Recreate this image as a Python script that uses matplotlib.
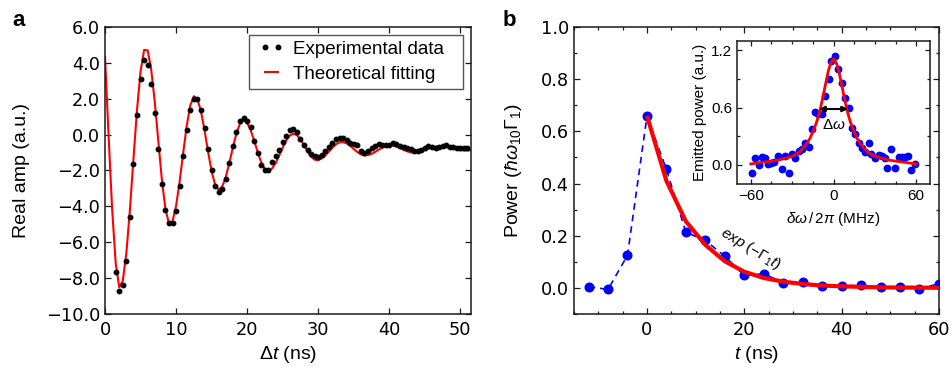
import numpy as np
import matplotlib
matplotlib.use("Agg")
import matplotlib.pyplot as plt
from matplotlib.ticker import MultipleLocator, FixedLocator, FuncFormatter
from matplotlib.patches import Rectangle

plt.rcParams['font.family'] = ['Liberation Sans', 'DejaVu Sans']
plt.rcParams['mathtext.fontset'] = 'custom'
plt.rcParams['mathtext.rm'] = 'Liberation Sans'
plt.rcParams['mathtext.it'] = 'Liberation Sans:italic'
plt.rcParams['mathtext.bf'] = 'Liberation Sans:bold'

# ---------------- Panel a data ----------------
t_exp = np.arange(1.5, 51.01, 0.5)
amp_exp = [
    -7.68, -8.74, -8.39, -7.07, -4.57, -1.65, 1.07, 3.09, 4.15, 3.87,
    2.85, 1.20, -0.78, -2.77, -4.21, -4.94, -4.90, -4.25, -2.86, -1.21,
    0.25, 1.37, 1.96, 1.96, 1.35, 0.38, -0.78, -1.97, -2.84, -3.21,
    -3.02, -2.47, -1.60, -0.62, 0.14, 0.77, 0.90, 0.77, 0.40, -0.36,
    -1.03, -1.68, -1.97, -1.95, -1.54, -1.20, -0.85, -0.40, -0.05, 0.24,
    0.33, 0.15, -0.23, -0.60, -0.88, -1.10, -1.21, -1.25, -1.15, -0.93,
    -0.69, -0.45, -0.26, -0.19, -0.19, -0.28, -0.45, -0.50, -0.60, -0.90,
    -1.00, -0.90, -0.75, -0.62, -0.50, -0.58, -0.60, -0.60, -0.45, -0.50,
    -0.62, -0.70, -0.77, -0.80, -0.90, -0.93, -0.86, -0.75, -0.62, -0.69,
    -0.75, -0.69, -0.65, -0.56, -0.69, -0.70, -0.73, -0.72, -0.75, -0.75,
]
t_fit = np.arange(0.0, 51.51, 0.5)
amp_fit = [
    4.33, -0.03, -4.13, -7.15, -8.51, -8.16, -6.63, -4.21, -1.37, 1.37,
    3.52, 4.72, 4.70, 3.63, 1.83, -0.36, -2.51, -4.14, -4.96, -4.83,
    -3.97, -2.62, -1.02, 0.50, 1.63, 2.14, 1.98, 1.30, 0.25, -0.95,
    -2.04, -2.81, -3.08, -2.89, -2.35, -1.57, -0.70, 0.08, 0.62, 0.81,
    0.66, 0.24, -0.35, -1.00, -1.57, -1.93, -2.03, -1.89, -1.59, -1.17,
    -0.72, -0.32, -0.05, 0.05, -0.03, -0.26, -0.58, -0.93, -1.23, -1.40,
    -1.42, -1.33, -1.16, -0.94, -0.72, -0.54, -0.43, -0.42, -0.49, -0.63,
    -0.80, -0.97, -1.10, -1.16, -1.14, -1.07, -0.97, -0.84, -0.73, -0.64,
    -0.60, -0.61, -0.67, -0.75, -0.85, -0.93, -0.99, -1.00, -0.98, -0.93,
    -0.86, -0.78, -0.71, -0.67, -0.65, -0.66, -0.69, -0.74, -0.79, -0.84,
    -0.87, -0.88, -0.88, -0.87,
]

# ---------------- Panel b data ----------------
t_pow = [-12, -8, -4, 0, 4, 8, 12, 16, 20, 24, 28, 32, 36, 40, 44, 48, 52, 56, 60]
pow_exp = [0.005, -0.006, 0.125, 0.658, 0.454, 0.213, 0.182, 0.121, 0.048, 0.054,
           0.020, 0.022, 0.007, 0.007, 0.010, 0.003, 0.004, -0.003, 0.016]
t_decay = [0, 4, 8, 12, 16, 20, 24, 28, 32, 36, 40, 44, 48, 52, 56, 60]
pow_decay = [0.66, 0.41, 0.255, 0.165, 0.102, 0.062, 0.038, 0.024, 0.015, 0.009,
             0.006, 0.004, 0.002, 0.0015, 0.001, 0.0005]

# ---------------- Inset data ----------------
freq_exp = [-59.4, -57.0, -54.3, -52.1, -49.7, -47.5, -45.3, -42.9, -40.5, -37.6,
            -35.2, -32.5, -30.1, -27.6, -25.2, -22.8, -20.6, -17.9, -15.8, -13.3,
            -11.2, -8.5, -6.1, -3.6, -1.7, 1.0, 3.6, 5.8, 8.5, 10.9,
            13.3, 15.8, 18.2, 20.6, 23.0, 25.5, 27.4, 30.1, 33.0, 35.2,
            37.6, 39.0, 41.9, 44.4, 47.3, 49.7, 52.1, 54.3, 56.5, 58.9]
emit_exp = [-0.08, 0.077, 0.0, 0.083, 0.077, 0.007, 0.024, 0.035, 0.094, -0.038,
            0.094, -0.087, 0.11, 0.07, 0.146, 0.17, 0.226, 0.188, 0.372, 0.553,
            0.529, 0.529, 0.72, 0.90, 1.085, 1.144, 1.005, 0.859, 0.696, 0.598,
            0.383, 0.327, 0.233, 0.181, 0.136, 0.233, 0.11, 0.077, 0.10, 0.094,
            0.073, -0.031, 0.17, -0.028, 0.087, 0.087, 0.083, 0.094, -0.052, 0.014]
freq_fit = [-60, -50, -40, -35, -30, -25, -20, -17, -14, -12, -10, -8, -6, -4, -2, 0,
            2, 4, 6, 8, 10, 12, 14, 17, 20, 25, 30, 35, 40, 50, 60]
emit_fit = [0.01, 0.03, 0.05, 0.07, 0.09, 0.13, 0.21, 0.28, 0.38, 0.46, 0.56, 0.69, 0.83,
            0.97, 1.07, 1.11, 1.07, 0.97, 0.83, 0.69, 0.56, 0.46, 0.38, 0.28, 0.21, 0.13,
            0.09, 0.07, 0.05, 0.03, 0.01]

RED = '#ff0000'
BLUE = '#0000ff'
SPINE = '#1a1a1a'
TICK_FS = 12.8
LAB_FS = 14
TICK_FONT = 'DejaVu Sans'

def minus_fmt(fmt):
    return FuncFormatter(lambda v, p: (fmt % v).replace('-', '\u2212'))

def style_axes(ax, fs, major_len=4, minor_len=2.5, tickfont=None):
    for s in ax.spines.values():
        s.set_linewidth(1.1)
        s.set_color(SPINE)
    ax.tick_params(which='both', direction='in', top=True, right=True,
                   width=0.9, color=SPINE, labelsize=fs)
    ax.tick_params(which='major', length=major_len)
    ax.tick_params(which='minor', length=minor_len)
    if tickfont:
        for lab in ax.get_xticklabels() + ax.get_yticklabels():
            lab.set_fontfamily(tickfont)

fig = plt.figure(figsize=(9.52, 3.73), dpi=100)

# ---------------- Panel a ----------------
ax1 = fig.add_axes([0.1103, 0.1582, 0.3845, 0.7694])
ax1.plot(t_exp, amp_exp, 'o', color='black', ms=3.2, mec='black', lw=0,
         label='Experimental data', zorder=3)
ax1.plot(t_fit, amp_fit, '-', color=RED, lw=1.5, label='Theoretical fitting', zorder=2)
ax1.set_xlim(0, 51.5)
ax1.set_ylim(-10, 6)
ax1.xaxis.set_major_locator(MultipleLocator(10))
ax1.yaxis.set_major_locator(MultipleLocator(2))
ax1.yaxis.set_major_formatter(minus_fmt('%.1f'))
style_axes(ax1, TICK_FS, tickfont=TICK_FONT)
ax1.tick_params(axis='x', pad=5)
ax1.set_xlabel(r'$\Delta t$ (ns)', fontsize=LAB_FS, labelpad=4)
ax1.set_ylabel('Real amp (a.u.)', fontsize=LAB_FS, labelpad=11)
# legend frame drawn manually for the reference's asymmetric padding
ax1.add_patch(Rectangle((0.393, 0.784), 0.585, 0.188, transform=ax1.transAxes,
                        facecolor='white', edgecolor='#555555', lw=1.0, zorder=4))
leg = ax1.legend(loc='upper left', fontsize=13.5, numpoints=2, handlelength=1.25,
                 handletextpad=0.5, borderpad=0.0, labelspacing=0.4,
                 frameon=False, bbox_to_anchor=(0.423, 0.952), borderaxespad=0)
leg.set_zorder(5)
fig.text(0.013, 0.945, 'a', fontsize=16, fontweight='bold', va='center')

# ---------------- Panel b ----------------
ax2 = fig.add_axes([0.6029, 0.1582, 0.3834, 0.7694])
ax2.plot(t_pow, pow_exp, '--', color=BLUE, lw=1.2, dashes=(4, 3), zorder=2)
ax2.plot(t_pow, pow_exp, 'o', color=BLUE, ms=6.2, lw=0, zorder=3)
ax2.plot(t_decay, pow_decay, '-', color=RED, lw=3.0, zorder=4, solid_capstyle='butt')
ax2.set_xlim(-15, 60)
ax2.set_ylim(-0.1, 1.0)
ax2.xaxis.set_major_locator(FixedLocator([0, 20, 40, 60]))
ax2.xaxis.set_minor_locator(MultipleLocator(5))
ax2.yaxis.set_major_locator(FixedLocator([0, 0.2, 0.4, 0.6, 0.8, 1.0]))
ax2.yaxis.set_minor_locator(MultipleLocator(0.1))
ax2.yaxis.set_major_formatter(minus_fmt('%.1f'))
style_axes(ax2, TICK_FS, tickfont=TICK_FONT)
ax2.tick_params(axis='x', pad=5)
ax2.set_xlabel(r'$t$ (ns)', fontsize=LAB_FS, labelpad=4)
ax2.set_ylabel(r'Power ($\hbar\omega_{10}\Gamma_1$)', fontsize=LAB_FS, labelpad=12)
ax2.text(21.4, 0.148, r'$exp\ (-\Gamma_1 t)$', fontsize=11, rotation=-31,
         ha='center', va='center')
fig.text(0.528, 0.945, 'b', fontsize=16, fontweight='bold', va='center')

# ---------------- Inset ----------------
ax3 = fig.add_axes([0.7742, 0.5067, 0.2027, 0.3842])
ax3.plot(freq_exp, emit_exp, 'o', color=BLUE, ms=4.6, lw=0, zorder=2)
ax3.plot(freq_fit, emit_fit, '-', color=RED, lw=2.0, zorder=3)
ax3.set_xlim(-70, 70)
ax3.set_ylim(-0.2, 1.3)
ax3.xaxis.set_major_locator(FixedLocator([-60, 0, 60]))
ax3.xaxis.set_minor_locator(MultipleLocator(15))
ax3.yaxis.set_major_locator(FixedLocator([0.0, 0.6, 1.2]))
ax3.yaxis.set_minor_locator(MultipleLocator(0.3))
ax3.yaxis.set_major_formatter(minus_fmt('%.1f'))
ax3.xaxis.set_major_formatter(minus_fmt('%d'))
style_axes(ax3, 11, major_len=3.5, minor_len=2.5)
ax3.set_xlabel(r'$\delta\omega\,/\,2\pi$ (MHz)', fontsize=11, labelpad=5)
ax3.set_ylabel('Emitted power (a.u.)', fontsize=11, labelpad=3)
ax3.annotate('', xy=(-10.5, 0.585), xytext=(10.5, 0.585),
             arrowprops=dict(arrowstyle='<|-|>', color='black', lw=1.5,
                             mutation_scale=8, shrinkA=0, shrinkB=0), zorder=5)
ax3.text(0, 0.42, r'$\Delta\omega$', fontsize=11, ha='center', va='center')

fig.savefig('out.png', dpi=100)
